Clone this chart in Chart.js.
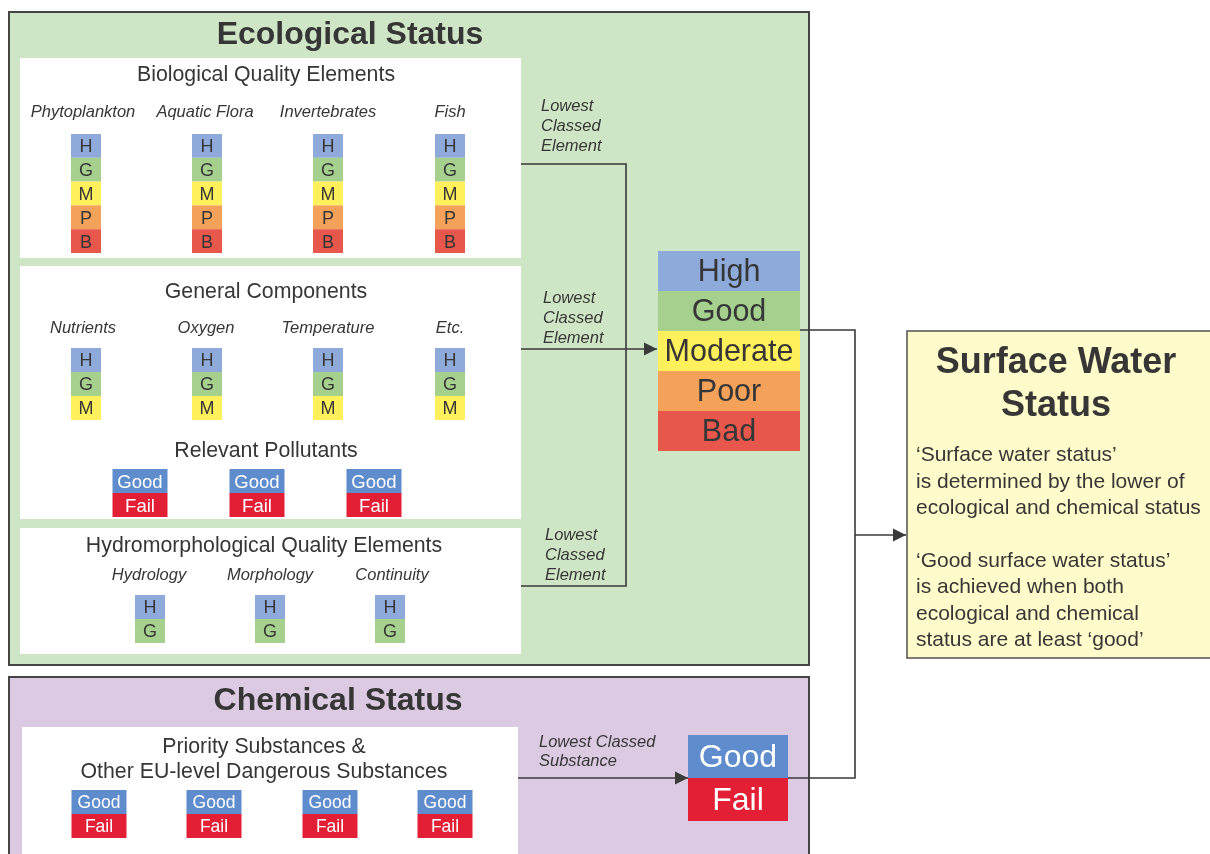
<!DOCTYPE html>
<html>
<head>
<meta charset="utf-8">
<script src="https://cdn.jsdelivr.net/npm/chart.js@4"></script>
<style>
  body { margin: 0; background: #ffffff; }
  #diagram { display: block; }
</style>
</head>
<body>
<canvas id="diagram" width="1210" height="854"></canvas>
<script>
// Data: quality elements and their classes
let bioElements = ['Phytoplankton', 'Aquatic Flora', 'Invertebrates', 'Fish'];
let bioClasses = ['H', 'G', 'M', 'P', 'B'];
let generalElements = ['Nutrients', 'Oxygen', 'Temperature', 'Etc.'];
let generalClasses = ['H', 'G', 'M'];
let pollutantBoxes = [1, 2, 3];
let passFail = ['Good', 'Fail'];
let hydroElements = ['Hydrology', 'Morphology', 'Continuity'];
let hydroClasses = ['H', 'G'];
let ecoClasses = ['High', 'Good', 'Moderate', 'Poor', 'Bad'];
let substanceBoxes = [1, 2, 3, 4];
let lowestElement = ['Lowest', 'Classed', 'Element'];
let lowestSubstance = ['Lowest Classed', 'Substance'];
let surfaceTitle = ['Surface Water', 'Status'];
let surfaceText = [
    '\u2018Surface water status\u2019',
    'is determined by the lower of',
    'ecological and chemical status',
    '',
    '\u2018Good surface water status\u2019',
    'is achieved when both',
    'ecological and chemical',
    'status are at least \u2018good\u2019'
];

// Colours per class
let classColours = {
    H: '#8eaadb', G: '#a6d08e', M: '#fff05c', P: '#f4a259', B: '#e8574b',
    High: '#8eaadb', Good: '#a6d08e', Moderate: '#fff05c', Poor: '#f4a259', Bad: '#e8574b'
};
let passColours = { Good: '#5e8ccc', Fail: '#e21f34' };

let FONT = '"Liberation Sans", Arial, sans-serif';
let DARK = '#363636';

// ////////////////////////////
// Drawing helpers (everything goes through the chart scales)
// ////////////////////////////
function rect(chart, x0, y0, x1, y1, fill, stroke, lw) {
    let sx = chart.scales.x, sy = chart.scales.y, c = chart.ctx;
    let px0 = sx.getPixelForValue(x0), px1 = sx.getPixelForValue(x1);
    let py0 = sy.getPixelForValue(y0), py1 = sy.getPixelForValue(y1);
    if (fill) {
        c.fillStyle = fill;
        c.fillRect(px0, py0, px1 - px0, py1 - py0);
    }
    if (stroke) {
        c.strokeStyle = stroke;
        c.lineWidth = lw || 1;
        c.strokeRect(px0, py0, px1 - px0, py1 - py0);
    }
}

function text(chart, str, x, y, size, opts) {
    opts = opts || {};
    let c = chart.ctx;
    c.fillStyle = opts.color || DARK;
    c.font = (opts.italic ? 'italic ' : '') + (opts.bold ? 'bold ' : '') + size + 'px ' + FONT;
    c.textAlign = opts.align || 'center';
    c.textBaseline = 'middle';
    // small nudge so the glyphs sit on the same centre line as the reference
    c.fillText(str, chart.scales.x.getPixelForValue(x), chart.scales.y.getPixelForValue(y) + 1.5);
}

function polyline(chart, pts, arrow) {
    let sx = chart.scales.x, sy = chart.scales.y, c = chart.ctx;
    c.strokeStyle = '#3a3a3a';
    c.lineWidth = 1.6;
    c.beginPath();
    pts.forEach(function(p, i) {
        let X = sx.getPixelForValue(p[0]), Y = sy.getPixelForValue(p[1]);
        if (i === 0) c.moveTo(X, Y); else c.lineTo(X, Y);
    });
    c.stroke();
    if (arrow) {
        let end = pts[pts.length - 1];
        let X = sx.getPixelForValue(end[0]), Y = sy.getPixelForValue(end[1]);
        c.fillStyle = '#3a3a3a';
        c.beginPath();
        c.moveTo(X, Y);
        c.lineTo(X - 13, Y - 6.5);
        c.lineTo(X - 13, Y + 6.5);
        c.closePath();
        c.fill();
    }
}

// Stack of class cells centred on cx
function stack(chart, cx, top, w, h, classes, colours, size, txtColour) {
    classes.forEach(function(cls, i) {
        let y0 = top + i * h;
        rect(chart, cx - w / 2, y0, cx + w / 2, y0 + h, colours[cls]);
        text(chart, cls, cx, y0 + h / 2, size, { color: txtColour || DARK });
    });
}

let diagramPlugin = {
    id: 'diagram',
    afterDraw: function(chart) {
        // Ecological Status
        rect(chart, 9, 12, 809, 665, '#cfe6c6', '#454545', 2);
        text(chart, 'Ecological Status', 350, 34, 32, { bold: true });

        // Biological quality elements
        rect(chart, 20, 58, 521, 258, '#ffffff');
        text(chart, 'Biological Quality Elements', 266, 74, 21.3);
        let bioNameX = [83, 205, 328, 450];
        let colX = [86, 207, 328, 450];
        bioElements.forEach(function(name, i) {
            text(chart, name, bioNameX[i], 111, 16.5, { italic: true });
            stack(chart, colX[i], 134, 30, 23.8, bioClasses, classColours, 18);
        });

        // General components
        rect(chart, 20, 266, 521, 519, '#ffffff');
        text(chart, 'General Components', 266, 291, 21.3);
        let genNameX = [83, 206, 328, 450];
        generalElements.forEach(function(name, i) {
            text(chart, name, genNameX[i], 327, 16.5, { italic: true });
            stack(chart, colX[i], 348, 30, 24, generalClasses, classColours, 18);
        });
        text(chart, 'Relevant Pollutants', 266, 450, 21.3);
        let polX = [140, 257, 374];
        pollutantBoxes.forEach(function(n, i) {
            stack(chart, polX[i], 469, 55, 24, passFail, passColours, 18.5, '#ffffff');
        });

        // Hydromorphological quality elements
        rect(chart, 20, 528, 521, 654, '#ffffff');
        text(chart, 'Hydromorphological Quality Elements', 264, 545, 21.3);
        let hydNameX = [149, 270, 392];
        let hydX = [150, 270, 390];
        hydroElements.forEach(function(name, i) {
            text(chart, name, hydNameX[i], 574, 16.5, { italic: true });
            stack(chart, hydX[i], 595, 30, 24, hydroClasses, classColours, 18);
        });

        // Lowest classed element labels
        let labelSets = [[541, 105], [543, 297], [545, 534]];
        labelSets.forEach(function(p) {
            lowestElement.forEach(function(t, j) {
                text(chart, t, p[0], p[1] + j * 20, 16.5, { italic: true, align: 'left' });
            });
        });

        // Connectors into ecological result
        polyline(chart, [[521, 164], [626, 164], [626, 586], [521, 586]]);
        polyline(chart, [[521, 349], [657, 349]], true);

        // Ecological result
        stack(chart, 729, 251, 142, 40, ecoClasses, classColours, 30.5);

        // Chemical Status
        rect(chart, 9, 677, 809, 880, '#dccae3', '#454545', 2);
        text(chart, 'Chemical Status', 338, 700, 32, { bold: true });
        rect(chart, 22, 727, 518, 880, '#ffffff');
        text(chart, 'Priority Substances &', 264, 746, 21.3);
        text(chart, 'Other EU-level Dangerous Substances', 264, 771, 21.3);
        let subX = [99, 214, 330, 445];
        substanceBoxes.forEach(function(n, i) {
            stack(chart, subX[i], 790, 55, 24, passFail, passColours, 17.5, '#ffffff');
        });
        lowestSubstance.forEach(function(t, j) {
            text(chart, t, 539, 741 + j * 19, 16.5, { italic: true, align: 'left' });
        });
        polyline(chart, [[518, 778], [688, 778]], true);
        stack(chart, 738, 735, 100, 43, passFail, passColours, 32, '#ffffff');

        // Connectors into surface water status
        polyline(chart, [[800, 330], [855, 330], [855, 778], [788, 778]]);
        polyline(chart, [[855, 535], [906, 535]], true);

        // Surface Water Status
        rect(chart, 907, 331, 1215, 658, '#fffbcb', '#5a5a5a', 1.6);
        surfaceTitle.forEach(function(t, j) {
            text(chart, t, 1056, 362 + j * 43, 36, { bold: true });
        });
        surfaceText.forEach(function(t, j) {
            text(chart, t, 916, 454 + j * 26.4, 21, { align: 'left' });
        });
    }
};

// ////////////////////////////
// Chart
// ////////////////////////////
var ctxDiagram = document.getElementById('diagram').getContext('2d');
var chartDiagram = new Chart(ctxDiagram, {
    type: 'scatter',
    data: { datasets: [{ data: [] }] },
    options: {
        responsive: false,
        animation: false,
        devicePixelRatio: 1,
        layout: { padding: 0 },
        plugins: { legend: { display: false }, tooltip: { enabled: false } },
        scales: {
            x: { type: 'linear', min: 0, max: 1210, display: false },
            y: { type: 'linear', min: 0, max: 854, reverse: true, display: false }
        }
    },
    plugins: [diagramPlugin]
});
</script>
</body>
</html>
